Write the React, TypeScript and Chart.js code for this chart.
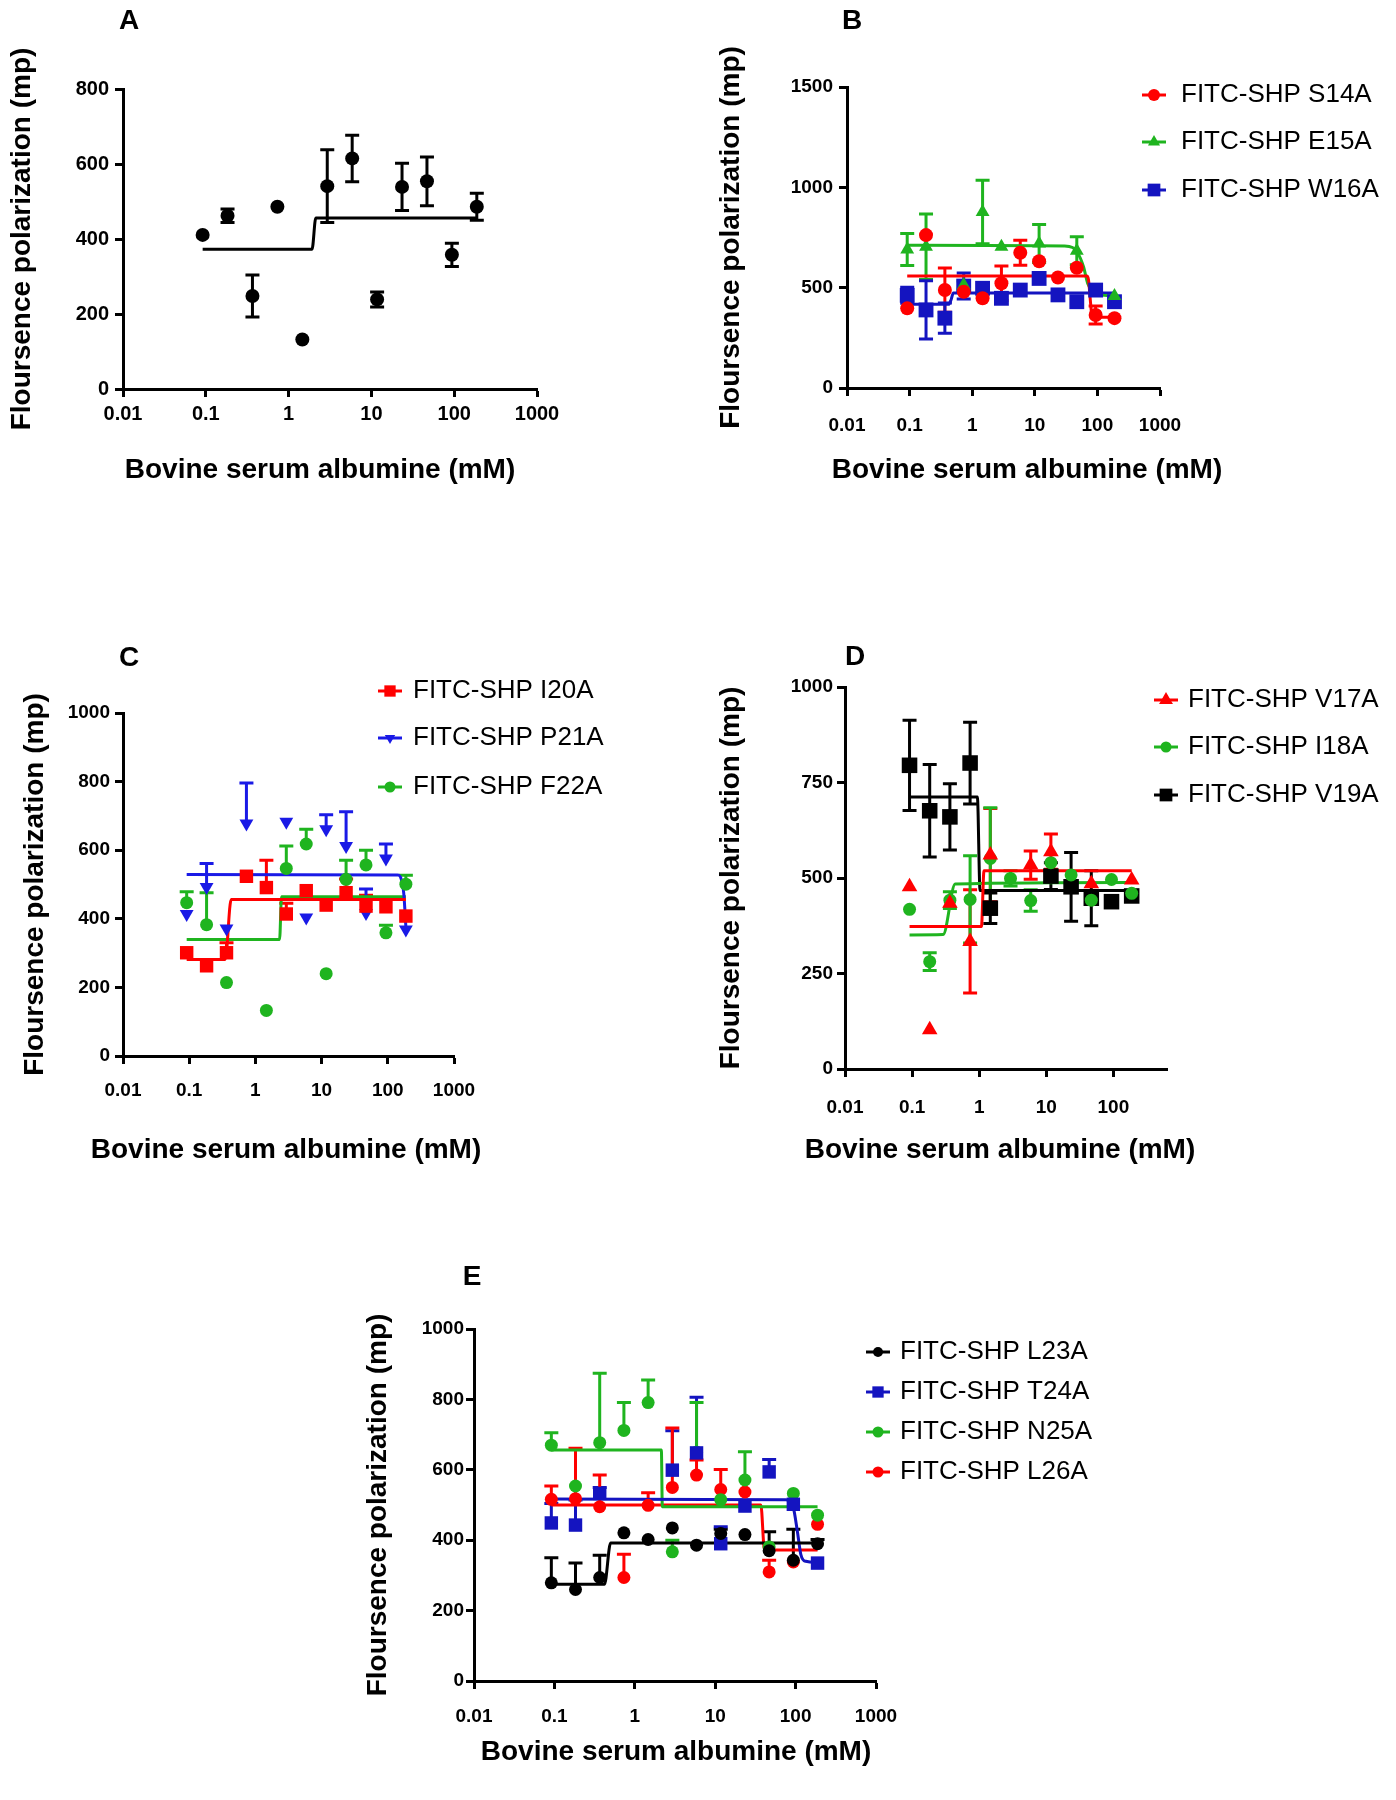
import React, { useEffect, useRef } from 'react';
import { Chart, registerables } from 'chart.js';

Chart.register(...registerables);

// ---------------- DATA ----------------
// BSA concentrations (mM), two-fold dilution series
const concentrations = [0.0916, 0.183, 0.366, 0.732, 1.465, 2.93, 5.86, 11.72, 23.44, 46.88, 93.75, 187.5];
const xTickValues = [0.01, 0.1, 1, 10, 100, 1000];
const xTickLabels = ['0.01', '0.1', '1', '10', '100', '1000'];
const yAxisTitle = 'Floursence polarization (mp)';
const xAxisTitle = 'Bovine serum albumine (mM)';

// Panel A
const aValues = [411, 462, 248, 486, 132, 541, 615, 239, 539, 554, 358, 486];
const aErrors = [0, 18, 56, 0, 0, 97, 62, 20, 63, 65, 31, 36];
const aFitX = [0.0916, 1.92, 2.13, 187.5];
const aFitY = [373, 373, 456, 456];

// Panel B
const bLabels = ['FITC-SHP S14A', 'FITC-SHP E15A', 'FITC-SHP W16A'];
const bS14AValues = [397, 762, 488, 480, 447, 522, 674, 632, 551, 599, 364, 348];
const bS14AErrors = [0, 0, 110, 0, 0, 86, 62, 0, 0, 0, 45, 0];
const bS14AFitX = [0.0916, 68, 72, 78, 82, 187.5];
const bS14AFitY = [558, 558, 540, 420, 355, 352];
const bE15AValues = [690, 704, null, 513, 877, 704, null, 720, null, 684, null, 459];
const bE15AErrors = [80, 163, 0, 20, 158, 0, 0, 95, 0, 70, 0, 0];
const bE15AFitX = [0.0916, 30, 40, 47, 60, 70, 85, 110, 187.5];
const bE15AFitY = [712, 708, 700, 680, 604, 521, 480, 464, 459];
const bW16AValues = [462, 389, 348, 508, 497, 447, 488, 546, 464, 430, 488, 430];
const bW16AErrors = [40, 145, 75, 65, 0, 0, 0, 0, 0, 0, 0, 0];
const bW16AFitX = [0.0916, 0.42, 0.46, 0.5, 187.5];
const bW16AFitY = [417, 417, 440, 474, 474];

// Panel C
const cLabels = ['FITC-SHP I20A', 'FITC-SHP P21A', 'FITC-SHP F22A'];
const cI20AValues = [301, 263, 301, 524, 491, 414, 482, 440, 476, 437, 435, 408];
const cI20AErrors = [0, 0, 29, 0, 80, 31, 0, 0, 40, 32, 0, 0];
const cI20AFitX = [0.0916, 0.35, 0.43, 187.5];
const cI20AFitY = [281, 281, 456, 456];
const cP21AValues = [414, 493, 372, 678, null, 683, 404, 661, 612, 417, 576, 369];
const cP21AErrors = [0, 68, 0, 118, 0, 0, 0, 42, 100, 70, 42, 0];
const cP21AFitX = [0.0916, 140, 160, 175, 187.5];
const cP21AFitY = [529, 528, 515, 470, 376];
const cF22AValues = [447, 383, 214, null, 133, 547, 618, 240, 515, 557, 359, 501];
const cF22AErrors = [32, 93, 0, 0, 0, 65, 43, 0, 56, 43, 22, 26];
const cF22AFitX = [0.0916, 2.32, 2.48, 187.5];
const cF22AFitY = [340, 340, 464, 464];

// Panel D
const dLabels = ['FITC-SHP V17A', 'FITC-SHP I18A', 'FITC-SHP V19A'];
const dV17AValues = [477, 103, 434, 334, 560, null, 534, 569, null, 485, null, 495];
const dV17AErrors = [0, 0, 0, 135, 122, 0, 37, 46, 0, 0, 0, 0];
const dV17AFitX = [0.0916, 1.08, 1.18, 187.5];
const dV17AFitY = [373, 373, 519, 519];
const dI18AValues = [418, 281, 442, 444, 551, 499, 441, 540, 508, 442, 496, 460];
const dI18AErrors = [0, 23, 22, 114, 133, 20, 28, 0, 0, 0, 0, 0];
const dI18AFitX = [0.0916, 0.29, 0.44, 187.5];
const dI18AFitY = [351, 352, 484, 488];
const dV19AValues = [795, 676, 660, 801, 421, null, null, 505, 477, 447, 438, 453];
const dV19AErrors = [118, 121, 87, 107, 40, 0, 0, 35, 90, 72, 0, 0];
const dV19AFitX = [0.0916, 0.94, 1.03, 187.5];
const dV19AFitY = [712, 712, 467, 467];

// Panel E
const eLabels = ['FITC-SHP L23A', 'FITC-SHP T24A', 'FITC-SHP N25A', 'FITC-SHP L26A'];
const eL23AValues = [279, 260, 294, 421, 402, 435, 386, 419, 416, 370, 343, 390];
const eL23AErrors = [71, 75, 63, 0, 0, 0, 0, 12, 0, 54, 88, 12];
const eL23AFitX = [0.0916, 0.42, 0.5, 187.5];
const eL23AFitY = [275, 275, 392, 392];
const eT24AValues = [449, 443, 533, null, null, 599, 648, 390, 497, 594, 502, 335];
const eT24AErrors = [55, 71, 17, 0, 0, 112, 158, 48, 0, 35, 0, 0];
const eT24AFitX = [0.0916, 75, 93, 106, 116, 134, 187.5];
const eT24AFitY = [517, 515, 495, 420, 360, 340, 337];
const eN25AValues = [670, 554, 677, 712, 791, 367, 650, 515, 571, 381, 533, 471];
const eN25AErrors = [35, 0, 197, 79, 64, 33, 141, 0, 80, 0, 0, 0];
const eN25AFitX = [0.0916, 2.14, 2.2, 187.5];
const eN25AFitY = [656, 656, 495, 495];
const eL26AValues = [516, 518, 495, 294, 499, 550, 585, 544, 537, 310, 338, 445];
const eL26AErrors = [38, 143, 90, 66, 36, 169, 43, 57, 0, 33, 0, 0];
const eL26AFitX = [0.0916, 37, 41, 187.5];
const eL26AFitY = [500, 500, 372, 372];

// ---------------- STYLE ----------------
const SANS = '"Liberation Sans", Arial, Helvetica, sans-serif';
const NARROW = '"Liberation Sans Narrow", "Arial Narrow", "Liberation Sans", sans-serif';
const RED = '#ff0000';
const GREEN = '#1fb41f';
const BLUE = '#1414c0';
const BLUE_C = '#1a1ae6';
const BLACK = '#000000';

type Series = {
  label: string;
  values: (number | null)[];
  errors: number[];
  fitX: number[];
  fitY: number[];
  color: string;
  style: 'circle' | 'rect' | 'triangle';
  rotation?: number;
  radius: number;
  legendRadius: number;
};

type Panel = {
  letter: string;
  letterCenter: [number, number];
  box: { left: number; top: number; width: number; height: number };
  plot: { L: number; T: number; R: number; B: number };
  yMax: number;
  yStep: number;
  xMax: number;
  yTitleX: number;
  xTitleX: number;
  xTitleY: number;
  tickFamily: string;
  tickSize: number;
  xTickPad: number;
  yTickPad: number;
  bothErr: boolean;
  series: Series[];
  legend?: { markerX: number; textX: number; rows: number[] };
};

const panels: Panel[] = [
  {
    letter: 'A', letterCenter: [129, 20],
    box: { left: 0, top: 0, width: 640, height: 500 },
    plot: { L: 123, T: 89, R: 537, B: 389 },
    yMax: 800, yStep: 200, xMax: 1000, yTitleX: 22, xTitleX: 320, xTitleY: 470,
    tickFamily: SANS, tickSize: 20, xTickPad: 5, yTickPad: 6, bothErr: true,
    series: [
      { label: 'BSA', values: aValues, errors: aErrors, fitX: aFitX, fitY: aFitY, color: BLACK, style: 'circle', radius: 7, legendRadius: 5 },
    ],
  },
  {
    letter: 'B', letterCenter: [852, 19.5],
    box: { left: 690, top: 0, width: 706, height: 500 },
    plot: { L: 847, T: 87, R: 1160, B: 388 },
    yMax: 1500, yStep: 500, xMax: 1000, yTitleX: 731, xTitleX: 1027, xTitleY: 470,
    tickFamily: NARROW, tickSize: 19, xTickPad: 18, yTickPad: 6, bothErr: true,
    series: [
      { label: bLabels[0], values: bS14AValues, errors: bS14AErrors, fitX: bS14AFitX, fitY: bS14AFitY, color: RED, style: 'circle', radius: 7, legendRadius: 6 },
      { label: bLabels[1], values: bE15AValues, errors: bE15AErrors, fitX: bE15AFitX, fitY: bE15AFitY, color: GREEN, style: 'triangle', radius: 8, legendRadius: 7 },
      { label: bLabels[2], values: bW16AValues, errors: bW16AErrors, fitX: bW16AFitX, fitY: bW16AFitY, color: BLUE, style: 'rect', radius: 10.5, legendRadius: 9 },
    ],
    legend: { markerX: 1154, textX: 1181, rows: [95, 142, 190] },
  },
  {
    letter: 'C', letterCenter: [129, 657],
    box: { left: 0, top: 620, width: 690, height: 560 },
    plot: { L: 123, T: 713, R: 454, B: 1056 },
    yMax: 1000, yStep: 200, xMax: 1000, yTitleX: 35.5, xTitleX: 286, xTitleY: 1150,
    tickFamily: NARROW, tickSize: 19, xTickPad: 15, yTickPad: 5, bothErr: false,
    series: [
      { label: cLabels[0], values: cI20AValues, errors: cI20AErrors, fitX: cI20AFitX, fitY: cI20AFitY, color: RED, style: 'rect', radius: 9.5, legendRadius: 8 },
      { label: cLabels[1], values: cP21AValues, errors: cP21AErrors, fitX: cP21AFitX, fitY: cP21AFitY, color: BLUE_C, style: 'triangle', rotation: 180, radius: 8, legendRadius: 6 },
      { label: cLabels[2], values: cF22AValues, errors: cF22AErrors, fitX: cF22AFitX, fitY: cF22AFitY, color: GREEN, style: 'circle', radius: 6.5, legendRadius: 5.5 },
    ],
    legend: { markerX: 390, textX: 413, rows: [691, 738, 787] },
  },
  {
    letter: 'D', letterCenter: [855, 656],
    box: { left: 690, top: 620, width: 706, height: 560 },
    plot: { L: 845, T: 687, R: 1167, B: 1069 },
    yMax: 1000, yStep: 250, xMax: 630, yTitleX: 731, xTitleX: 1000, xTitleY: 1150,
    tickFamily: NARROW, tickSize: 19, xTickPad: 19, yTickPad: 4, bothErr: true,
    series: [
      { label: dLabels[0], values: dV17AValues, errors: dV17AErrors, fitX: dV17AFitX, fitY: dV17AFitY, color: RED, style: 'triangle', radius: 9, legendRadius: 8 },
      { label: dLabels[1], values: dI18AValues, errors: dI18AErrors, fitX: dI18AFitX, fitY: dI18AFitY, color: GREEN, style: 'circle', radius: 6.5, legendRadius: 5.5 },
      { label: dLabels[2], values: dV19AValues, errors: dV19AErrors, fitX: dV19AFitX, fitY: dV19AFitY, color: BLACK, style: 'rect', radius: 11, legendRadius: 9 },
    ],
    legend: { markerX: 1166, textX: 1188, rows: [700, 747, 795] },
  },
  {
    letter: 'E', letterCenter: [472, 1276],
    box: { left: 340, top: 1250, width: 800, height: 550 },
    plot: { L: 474, T: 1329, R: 876, B: 1681 },
    yMax: 1000, yStep: 200, xMax: 1000, yTitleX: 378, xTitleX: 676, xTitleY: 1752,
    tickFamily: NARROW, tickSize: 19, xTickPad: 16, yTickPad: 2, bothErr: false,
    series: [
      { label: eLabels[0], values: eL23AValues, errors: eL23AErrors, fitX: eL23AFitX, fitY: eL23AFitY, color: BLACK, style: 'circle', radius: 6.5, legendRadius: 5 },
      { label: eLabels[1], values: eT24AValues, errors: eT24AErrors, fitX: eT24AFitX, fitY: eT24AFitY, color: BLUE, style: 'rect', radius: 9.5, legendRadius: 8 },
      { label: eLabels[2], values: eN25AValues, errors: eN25AErrors, fitX: eN25AFitX, fitY: eN25AFitY, color: GREEN, style: 'circle', radius: 6.5, legendRadius: 5.5 },
      { label: eLabels[3], values: eL26AValues, errors: eL26AErrors, fitX: eL26AFitX, fitY: eL26AFitY, color: RED, style: 'circle', radius: 6.5, legendRadius: 5.5 },
    ],
    legend: { markerX: 878, textX: 900, rows: [1352, 1392, 1432, 1472] },
  },
];

// ---------------- DRAW HELPERS ----------------
function drawMarker(ctx: CanvasRenderingContext2D, style: string, x: number, y: number, r: number, rotation = 0) {
  ctx.beginPath();
  if (style === 'circle') {
    ctx.arc(x, y, r, 0, Math.PI * 2);
  } else if (style === 'rect') {
    const s = r * Math.SQRT1_2;
    ctx.rect(x - s, y - s, 2 * s, 2 * s);
  } else {
    let a = (rotation * Math.PI) / 180;
    ctx.moveTo(x + Math.sin(a) * r, y - Math.cos(a) * r);
    a += (2 * Math.PI) / 3;
    ctx.lineTo(x + Math.sin(a) * r, y - Math.cos(a) * r);
    a += (2 * Math.PI) / 3;
    ctx.lineTo(x + Math.sin(a) * r, y - Math.cos(a) * r);
    ctx.closePath();
  }
  ctx.fill();
}

function buildConfig(p: Panel): any {
  const titleSize = 28;
  const half = titleSize * 0.6;
  const { box, plot } = p;
  const padLeft = p.yTitleX - half - box.left;
  const yW = plot.L - box.left - padLeft;
  const padTop = plot.T - box.top;
  const padRight = box.left + box.width - plot.R;
  const xBottom = p.xTitleY + half;
  const xH = xBottom - plot.B;
  const padBottom = box.top + box.height - xBottom;

  const scatterSets = p.series.map((s) => ({
    type: 'scatter',
    label: s.label,
    data: concentrations
      .map((x, i) => ({ x, y: s.values[i], err: s.errors[i] }))
      .filter((pt) => pt.y !== null),
    backgroundColor: s.color,
    borderColor: s.color,
    borderWidth: 0,
    pointStyle: s.style,
    rotation: s.rotation || 0,
    pointRadius: s.radius,
    pointHoverRadius: s.radius,
    errorColor: s.color,
  }));
  const fitSets = p.series.map((s) => ({
    type: 'line',
    label: s.label + ' fit',
    data: s.fitX.map((x, i) => ({ x, y: s.fitY[i] })),
    borderColor: s.color,
    backgroundColor: s.color,
    borderWidth: 3,
    pointRadius: 0,
    fill: false,
    cubicInterpolationMode: 'monotone',
  }));

  const errorBarPlugin = {
    id: 'errorBars' + p.letter,
    beforeDatasetsDraw(chart: any) {
      const ctx = chart.ctx as CanvasRenderingContext2D;
      const ys = chart.scales.y;
      chart.data.datasets.forEach((ds: any, di: number) => {
        if (!ds.errorColor) return;
        const meta = chart.getDatasetMeta(di);
        ctx.save();
        ctx.strokeStyle = ds.errorColor;
        ctx.lineWidth = 3;
        ds.data.forEach((pt: any, i: number) => {
          if (!pt.err) return;
          const el = meta.data[i];
          const x = el.x;
          const yTop = ys.getPixelForValue(pt.y + pt.err);
          const yBot = p.bothErr ? ys.getPixelForValue(pt.y - pt.err) : el.y;
          ctx.beginPath();
          ctx.moveTo(x, yBot);
          ctx.lineTo(x, yTop);
          ctx.moveTo(x - 7, yTop);
          ctx.lineTo(x + 7, yTop);
          if (p.bothErr) {
            ctx.moveTo(x - 7, yBot);
            ctx.lineTo(x + 7, yBot);
          }
          ctx.stroke();
        });
        ctx.restore();
      });
    },
  };

  const textPlugin = {
    id: 'panelText' + p.letter,
    afterDraw(chart: any) {
      const ctx = chart.ctx as CanvasRenderingContext2D;
      // x-axis title (drawn without width compression)
      ctx.save();
      ctx.fillStyle = '#000';
      ctx.font = `bold ${titleSize}px ${SANS}`;
      ctx.textAlign = 'center';
      ctx.textBaseline = 'middle';
      ctx.fillText(xAxisTitle, p.xTitleX - box.left, p.xTitleY - box.top);
      ctx.restore();
      if (!p.legend) return;
      const mx = p.legend.markerX - box.left;
      const tx = p.legend.textX - box.left;
      p.series.forEach((s, i) => {
        const y = p.legend!.rows[i] - box.top;
        ctx.save();
        ctx.strokeStyle = s.color;
        ctx.lineWidth = 3;
        ctx.beginPath();
        ctx.moveTo(mx - 12, y);
        ctx.lineTo(mx + 12, y);
        ctx.stroke();
        ctx.fillStyle = s.color;
        drawMarker(ctx, s.style, mx, y, s.legendRadius, s.rotation || 0);
        ctx.fillStyle = '#000';
        ctx.font = `26px ${SANS}`;
        ctx.textBaseline = 'middle';
        ctx.textAlign = 'left';
        ctx.fillText(s.label, tx, y);
        ctx.restore();
      });
    },
  };

  const axisCommon = {
    grid: { display: true, drawOnChartArea: false, drawTicks: true, tickLength: 8, tickWidth: 3, tickColor: '#000', color: '#000' },
    border: { display: true, color: '#000', width: 3 },
  };
  const tickFont = { family: p.tickFamily, size: p.tickSize, weight: 'bold' };
  const titleFont = { family: SANS, size: titleSize, weight: 'bold' };

  return {
    type: 'scatter',
    data: { datasets: [...scatterSets, ...fitSets] },
    options: {
      responsive: false,
      animation: false,
      devicePixelRatio: 1,
      events: [],
      layout: { padding: { left: padLeft, top: padTop, right: padRight, bottom: padBottom } },
      plugins: { legend: { display: false }, tooltip: { enabled: false }, title: { display: false } },
      scales: {
        x: {
          type: 'logarithmic',
          position: 'bottom',
          min: 0.01,
          max: p.xMax,
          afterBuildTicks: (s: any) => {
            s.ticks = xTickValues.filter((v) => v <= p.xMax).map((v) => ({ value: v }));
          },
          afterFit: (s: any) => {
            s.height = xH;
          },
          ticks: {
            autoSkip: false,
            maxRotation: 0,
            minRotation: 0,
            color: '#000',
            font: tickFont,
            padding: p.xTickPad,
            callback: (v: any) => {
              const idx = xTickValues.findIndex((t) => Math.abs(t - Number(v)) < t * 1e-6);
              return idx >= 0 ? xTickLabels[idx] : '';
            },
          },
          title: { display: false },
          ...axisCommon,
        },
        y: {
          type: 'linear',
          position: 'left',
          min: 0,
          max: p.yMax,
          afterFit: (s: any) => {
            s.width = yW;
          },
          ticks: {
            stepSize: p.yStep,
            color: '#000',
            font: tickFont,
            padding: p.yTickPad,
            callback: (v: any) => String(Math.round(Number(v))),
          },
          title: { display: true, text: yAxisTitle, color: '#000', font: titleFont, padding: 0 },
          ...axisCommon,
        },
      },
    },
    plugins: [errorBarPlugin, textPlugin],
  };
}

function PanelChart({ p }: { p: Panel }) {
  const ref = useRef<HTMLCanvasElement | null>(null);
  useEffect(() => {
    if (!ref.current) return;
    const chart = new Chart(ref.current, buildConfig(p));
    return () => chart.destroy();
  }, [p]);
  const letterSize = 28;
  return (
    <>
      <canvas
        ref={ref}
        width={p.box.width}
        height={p.box.height}
        style={{ position: 'absolute', left: p.box.left, top: p.box.top, width: p.box.width, height: p.box.height }}
      />
      <div
        style={{
          position: 'absolute',
          left: p.letterCenter[0] - 20,
          top: p.letterCenter[1] - 10 - 3.7,
          width: 40,
          textAlign: 'center',
          fontFamily: SANS,
          fontWeight: 'bold',
          fontSize: letterSize,
          lineHeight: `${letterSize}px`,
          color: '#000',
        }}
      >
        {p.letter}
      </div>
    </>
  );
}

export default function App() {
  return (
    <div style={{ position: 'absolute', left: 0, top: 0, width: 1396, height: 1800, background: '#fff', overflow: 'hidden' }}>
      {panels.map((p) => (
        <PanelChart key={p.letter} p={p} />
      ))}
    </div>
  );
}
